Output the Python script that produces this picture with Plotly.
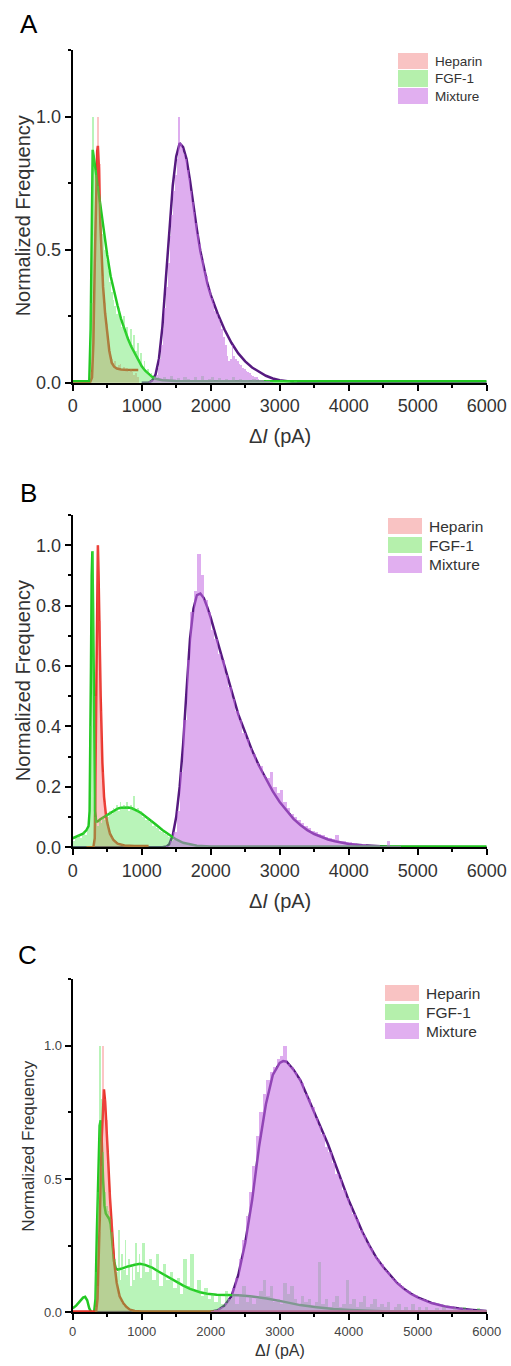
import plotly.graph_objects as go

W, H = 511, 1366

# ---------------- DATA ----------------
# Panel A fitted curves
A_hep_fit_x = [0, 250, 280, 300, 320, 340, 355, 365, 380, 400, 420, 440, 470, 500, 530, 565, 600, 640, 700, 800, 950]
A_hep_fit_y = [0, 0, 0.02, 0.15, 0.45, 0.75, 0.87, 0.89, 0.8, 0.6, 0.45, 0.36, 0.26, 0.18, 0.12, 0.075, 0.06, 0.053, 0.05, 0.048, 0.048]
A_fgf_fit_x = [0, 240, 260, 275, 290, 310, 350, 400, 450, 500, 550, 600, 650, 700, 750, 800, 850, 900, 950, 1000, 1050, 1100, 1150, 1200, 1300, 1500, 6000]
A_fgf_fit_y = [0.005, 0.005, 0.2, 0.7, 0.875, 0.84, 0.76, 0.67, 0.57, 0.48, 0.4, 0.34, 0.29, 0.24, 0.2, 0.165, 0.135, 0.11, 0.085, 0.062, 0.045, 0.032, 0.022, 0.015, 0.009, 0.006, 0.005]
A_mix_fit_x = [1000, 1100, 1150, 1200, 1250, 1300, 1350, 1400, 1450, 1500, 1550, 1600, 1650, 1700, 1750, 1800, 1850, 1900, 1950, 2000, 2100, 2200, 2300, 2400, 2500, 2600, 2700, 2800, 2900, 3000, 3200, 3500, 6000]
A_mix_fit_y = [0, 0.0, 0.008, 0.03, 0.09, 0.21, 0.39, 0.58, 0.74, 0.85, 0.90, 0.885, 0.84, 0.76, 0.66, 0.575, 0.495, 0.43, 0.375, 0.33, 0.26, 0.2, 0.15, 0.11, 0.08, 0.057, 0.04, 0.026, 0.016, 0.009, 0.003, 0.001, 0.0]

# Panel A histograms (bin start, bin width, normalized counts)
A_hep_start, A_hep_width = 250, 25
A_hep_counts = [0.04, 0.3, 0.55, 0.78, 1.0, 0.82, 0.55, 0.4, 0.3, 0.22, 0.16, 0.12, 0.09, 0.075, 0.08, 0.06,
                0.065, 0.07, 0.05, 0.06, 0.05, 0.055, 0.04, 0.05, 0.04, 0.03, 0.035, 0.02]
A_fgf_start, A_fgf_width = 250, 25
A_fgf_counts = [0.3, 1.0, 0.85, 0.8, 0.74, 0.68, 0.62, 0.56, 0.5, 0.46, 0.42, 0.38, 0.34, 0.31, 0.29, 0.26,
                0.28, 0.23, 0.21, 0.25, 0.19, 0.21, 0.16, 0.2, 0.14, 0.18, 0.12, 0.15, 0.09, 0.11, 0.06, 0.08,
                0.045, 0.05, 0.03, 0.035, 0.02, 0.025, 0.015, 0.02]
A_fgf_tail_start, A_fgf_tail_width = 1250, 50
A_fgf_tail_counts = [0.015, 0.02, 0.01, 0.025, 0.012, 0.018, 0.01, 0.022, 0.015, 0.01, 0.02, 0.012, 0.025, 0.01,
                     0.015, 0.02, 0.008, 0.018, 0.01, 0.015, 0.012, 0.02, 0.008, 0.015, 0.01, 0.012, 0.008, 0.015,
                     0.006, 0.01, 0.008, 0.012, 0.005, 0.008, 0.006, 0.01, 0.005, 0.006, 0.004, 0.005]
A_mix_start, A_mix_width = 1100, 25
A_mix_counts = [0.005, 0.01, 0.012, 0.02, 0.03, 0.055, 0.09, 0.14, 0.2, 0.28, 0.36, 0.45, 0.55, 0.63, 0.72, 0.78,
                0.84, 1.0, 0.9, 0.88, 0.86, 0.84, 0.8, 0.77, 0.72, 0.68, 0.64, 0.6, 0.56, 0.52, 0.48, 0.46,
                0.42, 0.4, 0.36, 0.35, 0.32, 0.3, 0.27, 0.26, 0.24, 0.22, 0.2, 0.17, 0.14, 0.1, 0.08, 0.09,
                0.14, 0.1, 0.09, 0.08, 0.07, 0.065, 0.055, 0.05, 0.045, 0.04, 0.035, 0.03, 0.025, 0.02,
                0.02, 0.015, 0.012, 0.01, 0.01, 0.008, 0.006, 0.005, 0.004, 0.003]

# Panel B fitted curves
B_hep_fit_x = [200, 300, 320, 335, 345, 355, 365, 375, 386, 405, 430, 454, 480, 502, 540, 590, 650, 750, 900, 1100]
B_hep_fit_y = [0, 0, 0.03, 0.35, 0.7, 0.93, 1.0, 0.9, 0.72, 0.5, 0.28, 0.167, 0.11, 0.08, 0.045, 0.024, 0.012, 0.006, 0.004, 0.004]
B_fgf_fit_x = [0, 100, 150, 200, 230, 245, 255, 265, 275, 285, 295, 305, 315, 325, 340, 360, 400, 450, 500, 550,
               600, 650, 700, 750, 800, 850, 900, 950, 1000, 1100, 1200, 1300, 1400, 1500, 1600, 1700, 1800, 2000, 2500, 6000]
B_fgf_fit_y = [0.03, 0.04, 0.045, 0.057, 0.07, 0.12, 0.3, 0.6, 0.9, 0.98, 0.8, 0.5, 0.25, 0.12, 0.085, 0.085, 0.093, 0.1, 0.108, 0.116,
               0.123, 0.128, 0.131, 0.132, 0.132, 0.13, 0.125, 0.119, 0.112, 0.095, 0.076, 0.057, 0.04, 0.026, 0.015, 0.009, 0.005, 0.003, 0.003, 0.003]
B_mix_fit_x = [0, 1300, 1362, 1400, 1450, 1500, 1550, 1600, 1650, 1700, 1750, 1800, 1850, 1900, 1950, 2000, 2100, 2200, 2300, 2400,
               2500, 2600, 2700, 2800, 2900, 3000, 3100, 3200, 3300, 3400, 3500, 3600, 3700, 3800, 3900, 4000, 4200, 4400, 4600, 5000, 6000]
B_mix_fit_y = [0, 0, 0.003, 0.01, 0.04, 0.1, 0.2, 0.34, 0.52, 0.69, 0.79, 0.835, 0.84, 0.825, 0.795, 0.76, 0.68, 0.6, 0.52, 0.44,
               0.38, 0.32, 0.27, 0.225, 0.185, 0.15, 0.12, 0.094, 0.074, 0.057, 0.044, 0.034, 0.026, 0.02, 0.015, 0.011, 0.007, 0.004, 0.002, 0.001, 0]

# Panel B histograms
B_hep_start, B_hep_width = 300, 25
B_hep_counts = [0.1, 0.5, 1.0, 0.75, 0.45, 0.25, 0.15, 0.1, 0.07, 0.05, 0.035, 0.025, 0.02, 0.015, 0.012, 0.01,
                0.01, 0.008, 0.008, 0.006, 0.006, 0.005, 0.005, 0.004, 0.004, 0.003, 0.003, 0.003, 0.003, 0.002, 0.002, 0.002]
B_fgf_start, B_fgf_width = 0, 25
B_fgf_counts = [0.02, 0.03, 0.03, 0.04, 0.03, 0.04, 0.05, 0.04, 0.06, 0.07, 0.4, 0.98, 0.5, 0.1, 0.07, 0.09,
                0.08, 0.1, 0.09, 0.11, 0.1, 0.12, 0.11, 0.13, 0.12, 0.14, 0.12, 0.15, 0.13, 0.14, 0.13, 0.15,
                0.12, 0.14, 0.13, 0.17, 0.12, 0.13, 0.11, 0.12, 0.1, 0.11, 0.09, 0.1, 0.085, 0.09, 0.07, 0.075,
                0.065, 0.06, 0.055, 0.05, 0.05, 0.045, 0.04, 0.035, 0.035, 0.03, 0.025, 0.025, 0.02, 0.02, 0.015, 0.015,
                0.012, 0.01, 0.01, 0.008, 0.008, 0.006, 0.006, 0.005, 0.005, 0.004, 0.004, 0.003, 0.003, 0.003, 0.002, 0.002]
B_mix_start, B_mix_width = 1350, 50
B_mix_counts = [0.005, 0.02, 0.05, 0.12, 0.25, 0.42, 0.62, 0.78, 0.85, 0.97, 0.9, 0.82, 0.78, 0.72, 0.69, 0.64,
                0.62, 0.57, 0.53, 0.49, 0.45, 0.42, 0.38, 0.36, 0.33, 0.31, 0.28, 0.27, 0.24, 0.23, 0.25, 0.2,
                0.18, 0.19, 0.15, 0.13, 0.11, 0.1, 0.09, 0.08, 0.07, 0.065, 0.055, 0.05, 0.045, 0.04, 0.035, 0.032,
                0.028, 0.04, 0.022, 0.02, 0.018, 0.016, 0.014, 0.012, 0.01, 0.01, 0.009, 0.008, 0.007, 0.006, 0.005, 0.005,
                0.02, 0.004, 0.003, 0.003, 0.002]

# Panel C fitted curves
C_hep_fit_x = [0, 340, 360, 380, 400, 420, 440, 453, 470, 490, 516, 540, 565, 600, 638, 680, 734, 780, 830, 900, 1000, 6000]
C_hep_fit_y = [0.003, 0.003, 0.05, 0.2, 0.42, 0.65, 0.8, 0.836, 0.79, 0.66, 0.56, 0.43, 0.31, 0.19, 0.11, 0.06, 0.034, 0.02, 0.01, 0.005, 0.003, 0.003]
C_fgf_fit_x = [0, 50, 100, 150, 180, 210, 240, 270, 310, 330, 350, 370, 390, 405, 420, 440, 460, 480, 500, 530,
               550, 575, 600, 625, 650, 700, 800, 900, 975, 1050, 1150, 1250, 1362, 1500, 1603, 1700, 1845, 1950, 2087, 2232,
               2400, 2570, 2812, 3053, 3295, 3536, 3778, 4019, 4500, 5000, 6000]
C_fgf_fit_y = [0.015, 0.025, 0.04, 0.055, 0.058, 0.045, 0.015, 0.0, 0.0, 0.05, 0.3, 0.55, 0.7, 0.72, 0.65, 0.5, 0.4, 0.37, 0.36, 0.35,
               0.33, 0.25, 0.19, 0.165, 0.16, 0.163, 0.172, 0.178, 0.182, 0.178, 0.168, 0.152, 0.135, 0.115, 0.1, 0.088, 0.075, 0.07, 0.066, 0.065,
               0.064, 0.06, 0.052, 0.04, 0.027, 0.019, 0.012, 0.009, 0.004, 0.002, 0.001]
C_mix_fit_x = [0, 2000, 2100, 2200, 2300, 2400, 2500, 2600, 2700, 2800, 2900, 3000, 3050, 3100, 3200, 3300, 3400, 3500, 3600, 3700,
               3800, 3900, 4000, 4100, 4200, 4300, 4400, 4500, 4600, 4700, 4800, 4900, 5000, 5200, 5400, 5600, 5800, 6000]
C_mix_fit_y = [0, 0.002, 0.008, 0.025, 0.06, 0.14, 0.26, 0.42, 0.62, 0.78, 0.89, 0.935, 0.942, 0.94, 0.91, 0.87, 0.81, 0.75, 0.69, 0.63,
               0.56, 0.49, 0.42, 0.36, 0.30, 0.25, 0.205, 0.17, 0.14, 0.11, 0.088, 0.07, 0.056, 0.035, 0.022, 0.014, 0.009, 0.005]

# Panel C histograms
C_hep_start, C_hep_width = 325, 25
C_hep_counts = [0.02, 0.1, 0.3, 0.55, 1.0, 0.8, 0.72, 0.6, 0.45, 0.35, 0.25, 0.16, 0.11, 0.07, 0.05, 0.035,
                0.025, 0.018, 0.012, 0.008, 0.006, 0.004, 0.003]
C_fgf_start, C_fgf_width = 325, 25
C_fgf_counts = [0.15, 0.45, 1.0, 0.8, 0.6, 0.45, 0.4, 0.38, 0.36, 0.3, 0.22, 0.2, 0.15, 0.31, 0.12, 0.22,
                0.16, 0.27, 0.14, 0.2, 0.1, 0.18, 0.12, 0.26, 0.15, 0.22, 0.13]
C_fgf_tail_start, C_fgf_tail_width = 1000, 50
C_fgf_tail_counts = [0.26, 0.15, 0.2, 0.12, 0.22, 0.1, 0.18, 0.12, 0.15, 0.09, 0.13, 0.07, 0.2, 0.1, 0.22, 0.08,
                     0.12, 0.06, 0.09, 0.05, 0.07, 0.04, 0.06, 0.03, 0.08, 0.05, 0.06, 0.03, 0.07, 0.1, 0.04, 0.06,
                     0.03, 0.05, 0.08, 0.12, 0.06, 0.1, 0.04, 0.05, 0.03, 0.11, 0.07, 0.1, 0.05, 0.03, 0.06, 0.04,
                     0.05, 0.02, 0.04, 0.19, 0.03, 0.05, 0.02, 0.04, 0.06, 0.02, 0.03, 0.12, 0.03, 0.05, 0.02, 0.04,
                     0.06, 0.02, 0.03, 0.05, 0.02, 0.03, 0.02, 0.04, 0.01, 0.02, 0.03, 0.01, 0.02, 0.01, 0.03, 0.01,
                     0.02, 0.01, 0.02, 0.01, 0.01, 0.015, 0.01, 0.02, 0.01, 0.01, 0.015, 0.01, 0.01, 0.02, 0.01, 0.01,
                     0.01, 0.015, 0.01, 0.01]
C_mix_start, C_mix_width = 1950, 50
C_mix_counts = [0.003, 0.005, 0.01, 0.015, 0.02, 0.035, 0.05, 0.09, 0.13, 0.2, 0.27, 0.36, 0.45, 0.55, 0.66, 0.75,
                0.82, 0.87, 0.9, 0.92, 0.95, 0.96, 1.0, 0.93, 0.92, 0.9, 0.88, 0.86, 0.82, 0.8, 0.77, 0.73,
                0.7, 0.67, 0.62, 0.6, 0.56, 0.52, 0.5, 0.46, 0.43, 0.4, 0.37, 0.35, 0.31, 0.29, 0.26, 0.24,
                0.21, 0.2, 0.18, 0.16, 0.15, 0.13, 0.12, 0.11, 0.1, 0.085, 0.08, 0.07, 0.065, 0.055, 0.05, 0.045,
                0.04, 0.038, 0.035, 0.03, 0.028, 0.025, 0.022, 0.02, 0.018, 0.016, 0.014, 0.012, 0.011, 0.01, 0.009, 0.008, 0.007]

series_names = ["Heparin", "FGF-1", "Mixture"]

# ---------------- STYLE ----------------
FONT = "Liberation Sans"
line_colors = {"Heparin": "#e8352b", "FGF-1": "#22c822", "Mixture": "#561a80"}
bar_colors = {"Heparin": "rgba(245,90,90,0.35)", "FGF-1": "rgba(70,225,70,0.38)", "Mixture": "rgba(195,105,225,0.55)"}
legend_colors = {"Heparin": "#f9c3c3", "FGF-1": "#b5f0ac", "Mixture": "#e1aff0"}


def px_x(p):
    return p / W


def px_y(p):
    return 1 - p / H


panels = [
    dict(letter="A", top=50, bottom=382.7, ymax=1.25, dtick=0.5, minor=0.25, tickfont=18, titlefont=20, xtitlefont=20,
         fits=[("Mixture", A_mix_fit_x, A_mix_fit_y), ("Heparin", A_hep_fit_x, A_hep_fit_y), ("FGF-1", A_fgf_fit_x, A_fgf_fit_y)],
         hists=[("Heparin", A_hep_start, A_hep_width, A_hep_counts), ("FGF-1", A_fgf_start, A_fgf_width, A_fgf_counts),
                ("FGF-1", A_fgf_tail_start, A_fgf_tail_width, A_fgf_tail_counts), ("Mixture", A_mix_start, A_mix_width, A_mix_counts)],
         letter_pos=(29, 24), ytitle_x=23, xtitle_y=436,
         leg_x=(398, 428), leg_rows=[(53, 69), (70, 87), (88, 104)], leg_font=13.5, tick_color="#333"),
    dict(letter="B", top=515, bottom=847.3, ymax=1.1, dtick=0.2, minor=0.1, tickfont=18, titlefont=20, xtitlefont=20,
         fits=[("Mixture", B_mix_fit_x, B_mix_fit_y), ("Heparin", B_hep_fit_x, B_hep_fit_y), ("FGF-1", B_fgf_fit_x, B_fgf_fit_y)],
         hists=[("Heparin", B_hep_start, B_hep_width, B_hep_counts), ("FGF-1", B_fgf_start, B_fgf_width, B_fgf_counts),
                ("Mixture", B_mix_start, B_mix_width, B_mix_counts)],
         letter_pos=(28, 493), ytitle_x=23, xtitle_y=901,
         leg_x=(388, 422), leg_rows=[(518, 534), (537, 553), (556, 573)], leg_font=15.5, tick_color="#333"),
    dict(letter="C", top=979, bottom=1312.3, ymax=1.25, dtick=0.5, minor=0.25, tickfont=13, titlefont=17, xtitlefont=16,
         fits=[("Mixture", C_mix_fit_x, C_mix_fit_y), ("FGF-1", C_fgf_fit_x, C_fgf_fit_y), ("Heparin", C_hep_fit_x, C_hep_fit_y)],
         hists=[("Heparin", C_hep_start, C_hep_width, C_hep_counts), ("FGF-1", C_fgf_start, C_fgf_width, C_fgf_counts),
                ("FGF-1", C_fgf_tail_start, C_fgf_tail_width, C_fgf_tail_counts), ("Mixture", C_mix_start, C_mix_width, C_mix_counts)],
         letter_pos=(27, 955), ytitle_x=29, xtitle_y=1350,
         leg_x=(385, 419), leg_rows=[(985, 1001), (1004, 1020), (1023, 1039)], leg_font=15.5, tick_color="#444"),
]

X_LEFT, X_RIGHT = 72.7, 486.7
fig = go.Figure()
layout = dict(width=W, height=H, autosize=False, margin=dict(l=0, r=0, t=0, b=0, pad=0, autoexpand=False),
              plot_bgcolor="white", paper_bgcolor="white",
              barmode="overlay", bargap=0, showlegend=False, font=dict(family=FONT, color="#222"))
shapes, annotations = [], []

for i, p in enumerate(panels, start=1):
    j = i + 3
    xb = "x" if i == 1 else f"x{i}"
    yb = "y" if i == 1 else f"y{i}"
    xo, yo = f"x{j}", f"y{j}"
    ydom = [px_y(p["bottom"]), px_y(p["top"])]
    xdom = [px_x(X_LEFT), px_x(X_RIGHT)]
    kx = "xaxis" if i == 1 else f"xaxis{i}"
    ky = "yaxis" if i == 1 else f"yaxis{i}"
    tf = dict(family=FONT, size=p["tickfont"], color=p["tick_color"])
    layout[kx] = dict(domain=xdom, range=[0, 6000], anchor=yb, showline=True, linecolor="black", linewidth=2,
                      ticks="outside", ticklen=6, tickwidth=2, tickcolor="black", tickmode="linear", tick0=0, dtick=1000,
                      minor=dict(ticks="outside", ticklen=3, tickwidth=1.5, tickcolor="black", dtick=500, tick0=0),
                      showgrid=False, zeroline=False, tickfont=tf, fixedrange=True, automargin=False)
    layout[ky] = dict(domain=ydom, range=[0, p["ymax"]], anchor=xb, showline=True, linecolor="black", linewidth=2,
                      ticks="outside", ticklen=6, tickwidth=2, tickcolor="black", tickmode="linear", tick0=0, dtick=p["dtick"],
                      minor=dict(ticks="outside", ticklen=3, tickwidth=1.5, tickcolor="black", dtick=p["minor"], tick0=0),
                      tickformat=".1f", showgrid=False, zeroline=False, tickfont=tf, fixedrange=True, automargin=False)
    layout[f"xaxis{j}"] = dict(overlaying=xb, range=[0, 6000], anchor=yo, visible=False, fixedrange=True, automargin=False)
    layout[f"yaxis{j}"] = dict(overlaying=yb, range=[0, p["ymax"]], anchor=xo, visible=False, fixedrange=True, automargin=False)

    # fitted curves (below the translucent histogram bars)
    for name, fx, fy in p["fits"]:
        fig.add_trace(go.Scatter(x=fx, y=fy, mode="lines", xaxis=xb, yaxis=yb, name=name,
                                 line=dict(color=line_colors[name], width=2.5), hoverinfo="skip"))
    # histograms on overlay axes (drawn above the curves)
    for name, start, width, counts in p["hists"]:
        xs = [start + width * (k + 0.5) for k in range(len(counts))]
        fig.add_trace(go.Bar(x=xs, y=counts, width=width, xaxis=xo, yaxis=yo, name=name,
                             marker=dict(color=bar_colors[name], line=dict(width=0)), hoverinfo="skip"))

    # panel letter
    annotations.append(dict(text=p["letter"], x=px_x(p["letter_pos"][0]), y=px_y(p["letter_pos"][1]), xref="paper",
                            yref="paper", showarrow=False, font=dict(family=FONT, size=26, color="black"),
                            xanchor="center", yanchor="middle"))
    # axis titles
    annotations.append(dict(text="Normalized Frequency", x=px_x(p["ytitle_x"]), y=px_y((p["top"] + p["bottom"]) / 2),
                            xref="paper", yref="paper", showarrow=False, textangle=-90,
                            font=dict(family=FONT, size=p["titlefont"], color="#333"), xanchor="center", yanchor="middle"))
    annotations.append(dict(text="Δ<i>I</i> (pA)", x=px_x((X_LEFT + X_RIGHT) / 2), y=px_y(p["xtitle_y"]),
                            xref="paper", yref="paper", showarrow=False,
                            font=dict(family=FONT, size=p["xtitlefont"], color="#333"), xanchor="center", yanchor="middle"))
    # legend
    for name, (r0, r1) in zip(series_names, p["leg_rows"]):
        shapes.append(dict(type="rect", xref="paper", yref="paper", x0=px_x(p["leg_x"][0]), x1=px_x(p["leg_x"][1]),
                           y0=px_y(r1), y1=px_y(r0), fillcolor=legend_colors[name], line=dict(width=0)))
        annotations.append(dict(text=name, x=px_x(p["leg_x"][1] + 5), y=px_y((r0 + r1) / 2), xref="paper", yref="paper",
                                showarrow=False, xanchor="left", yanchor="middle",
                                font=dict(family=FONT, size=p["leg_font"], color="#333")))

layout["shapes"] = shapes
layout["annotations"] = annotations
fig.update_layout(**layout)
fig.write_html("out.html", config={"displayModeBar": False},
               post_script="document.body.style.margin='0';")
